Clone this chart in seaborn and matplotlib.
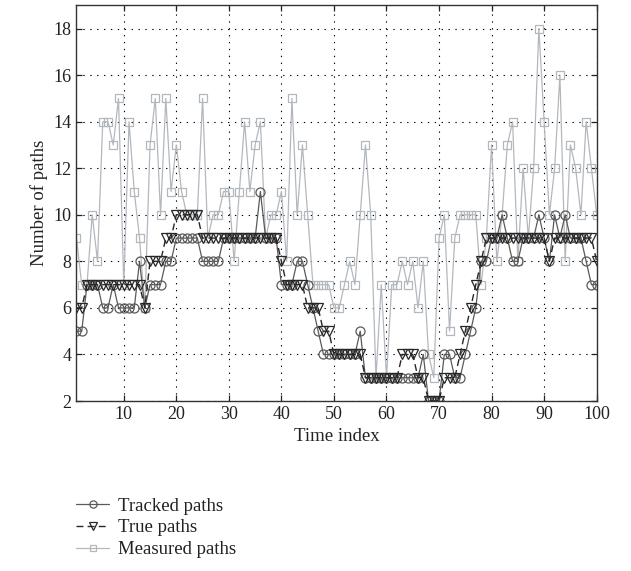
import numpy as np
import pandas as pd
import seaborn as sns
import matplotlib
matplotlib.use("Agg")
import matplotlib.pyplot as plt

# time index 1..100
time_index = np.arange(1, 101)

tracked_paths = [5, 5, 7, 7, 7, 6, 6, 7, 6, 6,
                 6, 6, 8, 6, 7, 7, 7, 8, 8, 9,
                 9, 9, 9, 9, 8, 8, 8, 8, 9, 9,
                 9, 9, 9, 9, 9, 11, 9, 9, 9, 7,
                 7, 7, 8, 8, 7, 6, 5, 4, 4, 4,
                 4, 4, 4, 4, 5, 3, 3, 3, 3, 3,
                 3, 3, 3, 3, 3, 3, 4, 2, 2, 2,
                 4, 4, 3, 3, 4, 5, 6, 8, 8, 9,
                 9, 10, 9, 8, 8, 9, 9, 9, 10, 9,
                 8, 10, 9, 10, 9, 9, 9, 8, 7, 7]

true_paths = [6, 6, 7, 7, 7, 7, 7, 7, 7, 7,
              7, 7, 7, 6, 8, 8, 8, 9, 9, 10,
              10, 10, 10, 10, 9, 9, 9, 9, 9, 9,
              9, 9, 9, 9, 9, 9, 9, 9, 9, 8,
              7, 7, 7, 7, 6, 6, 6, 5, 5, 4,
              4, 4, 4, 4, 4, 3, 3, 3, 3, 3,
              3, 3, 4, 4, 4, 3, 3, 2, 2, 2,
              3, 3, 3, 4, 5, 6, 7, 8, 9, 9,
              9, 9, 9, 9, 9, 9, 9, 9, 9, 9,
              8, 9, 9, 9, 9, 9, 9, 9, 9, 8]

measured_paths = [9, 7, 7, 10, 8, 14, 14, 13, 15, 7,
                  14, 11, 9, 6, 13, 15, 10, 15, 11, 13,
                  11, 10, 10, 10, 15, 9, 10, 10, 11, 11,
                  8, 11, 14, 11, 13, 14, 9, 10, 10, 11,
                  8, 15, 10, 13, 10, 7, 7, 7, 7, 6,
                  6, 7, 8, 7, 10, 13, 10, 3, 7, 3,
                  7, 7, 8, 7, 8, 6, 8, 4, 3, 9,
                  10, 5, 9, 10, 10, 10, 10, 7, 9, 13,
                  8, 10, 13, 14, 8, 12, 9, 12, 18, 14,
                  10, 12, 16, 8, 13, 12, 10, 14, 12, 10]

df = pd.DataFrame({"t": time_index, "tracked": tracked_paths,
                   "true": true_paths, "measured": measured_paths})

sns.set_style("ticks")
plt.rcParams['font.family'] = ['Liberation Serif', 'DejaVu Serif']
plt.rcParams['font.size'] = 13

fig = plt.figure(figsize=(6.31, 5.71), dpi=100)
ax = fig.add_axes([0.1212, 0.2977, 0.8244, 0.693])

sns.lineplot(data=df, x="t", y="measured", ax=ax, color="#b3b8be",
             marker="s", markersize=6, markerfacecolor="none",
             markeredgecolor="#b3b8be", markeredgewidth=0.9,
             linewidth=0.9, label="Measured paths")
sns.lineplot(data=df, x="t", y="tracked", ax=ax, color="#5a5a5a",
             marker="o", markersize=6.5, markerfacecolor="none",
             markeredgecolor="#5a5a5a", markeredgewidth=0.9,
             linewidth=0.9, label="Tracked paths")
sns.lineplot(data=df, x="t", y="true", ax=ax, color="#262626",
             marker="v", markersize=6.5, markerfacecolor="none",
             markeredgecolor="#262626", markeredgewidth=0.9,
             linewidth=1.0, linestyle=(0, (5, 3)), label="True paths")

ax.set_xlim(1, 100)
ax.set_ylim(2, 19)
ax.set_xticks(np.arange(10, 101, 10))
ax.set_yticks(np.arange(2, 19, 2))
ax.grid(True, color="black", linestyle=(0, (1.2, 5)), linewidth=0.8)
ax.tick_params(direction="in", top=True, right=True, length=4,
               width=0.9, labelsize=13, colors="#222222", labelcolor="#222222")
for s in ax.spines.values():
    s.set_linewidth(1.0)
    s.set_color("#333333")

ax.set_xlabel("Time index", fontsize=13.5, color="#222222")
ax.set_ylabel("Number of paths", fontsize=13.5, color="#222222")

handles, labels = ax.get_legend_handles_labels()
ax.get_legend().remove()
order = [1, 2, 0]
fig.legend([handles[i] for i in order], [labels[i] for i in order],
           loc="upper left", bbox_to_anchor=(0.108, 0.142), frameon=False,
           fontsize=13.5, handlelength=1.8, handletextpad=0.45,
           labelspacing=0.25, borderaxespad=0, labelcolor="#222222",
           markerscale=0.8)

fig.savefig("out.png", dpi=100)
